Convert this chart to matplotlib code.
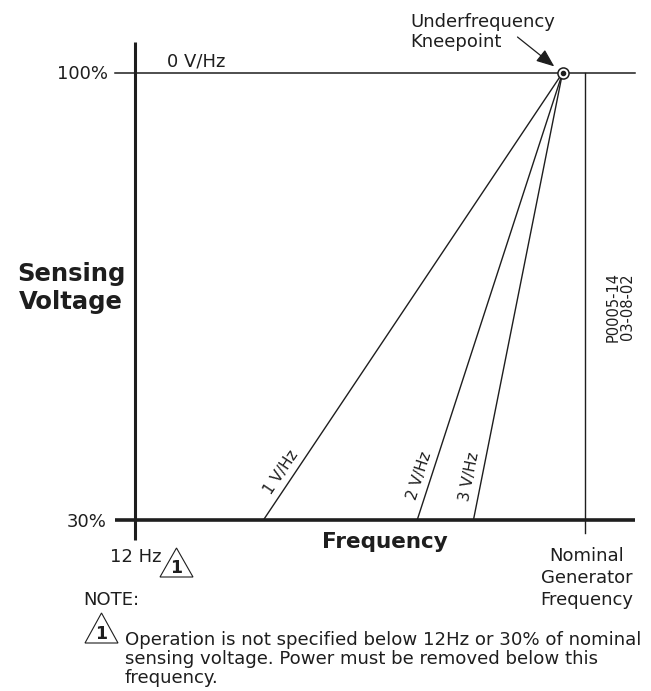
import math

import matplotlib
matplotlib.use("Agg")
import matplotlib.pyplot as plt
import numpy as np
from matplotlib.patches import Polygon

# chart values
low_freq = 12.0          # left end of the frequency axis
nominal_freq = 60.0      # nominal generator frequency
knee_freq = 57.6         # underfrequency kneepoint
v_min, v_max = 30, 100   # sensing voltage, percent
slope_names = ["1 V/Hz", "2 V/Hz", "3 V/Hz"]
slope_start_freq = [25.7, 42.1, 48.1]   # where each slope reaches 30 %
axis_x_span = [9.9, 65.3]
axis_y_span = [26.9, 104.9]
nominal_bottom = 28.0

note_lines = [
    "Operation is not specified below 12Hz or 30% of nominal",
    "sensing voltage. Power must be removed below this",
    "frequency.",
]

W, H = 651, 691
ink = "#1e1e1e"
plt.rcParams["font.family"] = ["DejaVu Sans"]

fig = plt.figure(figsize=(W / 100, H / 100), dpi=100)


def fx(px):
    return px / W


def fy(py):
    return 1 - py / H


def label(px, py, s, **kw):
    kw.setdefault("color", ink)
    kw.setdefault("fontsize", 13)
    return fig.text(fx(px), fy(py), s, **kw)


def flag(x0, x1, top, bottom):
    tri = Polygon([(fx(x0), fy(bottom)), (fx(x1), fy(bottom)), (fx((x0 + x1) / 2), fy(top))],
                  closed=True, fill=False, edgecolor=ink, lw=0.8, transform=fig.transFigure)
    fig.add_artist(tri)
    label((x0 + x1) / 2, bottom - 9, "1", ha="center", va="center",
          fontsize=12.5, fontweight="bold")


ax = fig.add_axes([fx(135), fy(520), fx(585) - fx(135), fy(73) - fy(520)])
ax.set_xlim(low_freq, nominal_freq)
ax.set_ylim(v_min, v_max)
ax.axis("off")

# axes and reference lines
ax.plot(axis_x_span, [v_min, v_min], lw=2.6, color=ink, clip_on=False, solid_capstyle="butt")
ax.plot([low_freq, low_freq], axis_y_span, lw=2.2, color=ink, clip_on=False, solid_capstyle="butt")
ax.plot(axis_x_span, [v_max, v_max], lw=1.1, color=ink, clip_on=False)
ax.plot([nominal_freq, nominal_freq], [nominal_bottom, v_max], lw=1.0, color=ink, clip_on=False)

# V/Hz slopes
v_label = 36.4
for name, f0 in zip(slope_names, slope_start_freq):
    ax.plot([f0, knee_freq], [v_min, v_max], lw=1.0, color=ink)
    p0 = ax.transData.transform((f0, v_min))
    p1 = ax.transData.transform((knee_freq, v_max))
    d = p1 - p0
    ang = math.degrees(math.atan2(d[1], d[0]))
    t = (v_label - v_min) / (v_max - v_min)
    pt = p0 + t * d
    nrm = np.array([-d[1], d[0]]) / np.hypot(*d)
    pos = pt + 12 * nrm
    fig.text(pos[0] / W, pos[1] / H, name, rotation=ang, rotation_mode="anchor",
             ha="center", va="center", fontsize=11, color=ink)

# kneepoint marker + arrow
ax.plot([knee_freq], [v_max], "o", ms=8, mfc="white", mec=ink, mew=1.1, zorder=5, clip_on=False)
ax.plot([knee_freq], [v_max], "o", ms=3, color=ink, zorder=6, clip_on=False)
ax.annotate("", xy=(knee_freq, v_max), xytext=(-32.4, 25.9), textcoords="offset points",
            arrowprops=dict(arrowstyle="-|>,head_length=0.55,head_width=0.22", color=ink,
                            lw=0.9, shrinkA=0, shrinkB=7.6, mutation_scale=20))

# text
label(410, 32, "Underfrequency\nKneepoint", ha="left", va="center", linespacing=1.2)
label(167, 62, "0 V/Hz", ha="left", va="center")
label(108, 74, "100%", ha="right", va="center")
label(107, 522, "30%", ha="right", va="center")
label(71, 288, "Sensing\nVoltage", ha="center", va="center", fontsize=17.5,
      fontweight="bold", linespacing=1.2)
label(385, 542, "Frequency", ha="center", va="center", fontsize=15.5, fontweight="bold")
label(587, 578, "Nominal\nGenerator\nFrequency", ha="center", va="center", linespacing=1.3)
label(620, 307, "P0005-14\n03-08-02", ha="center", va="center", rotation=90,
      fontsize=10.5, linespacing=0.95)
label(110, 557, "12 Hz", ha="left", va="center")
flag(160, 193, 548, 577)
label(83, 600, "NOTE:", ha="left", va="center")
flag(85, 118, 613, 643)
label(125, 659, "\n".join(note_lines), ha="left", va="center", fontsize=13.1,
      linespacing=1.1)

fig.savefig("out.png", dpi=100)
plt.close(fig)
